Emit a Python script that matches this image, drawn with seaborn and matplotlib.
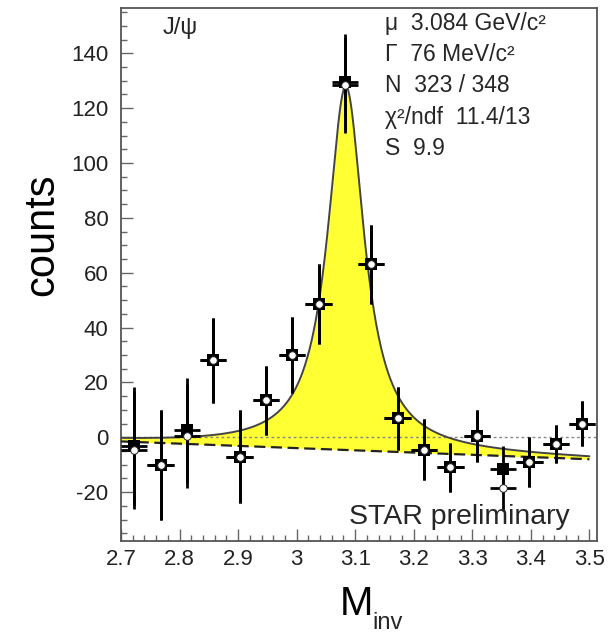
import numpy as np
import pandas as pd
import matplotlib
matplotlib.use("Agg")
import matplotlib.pyplot as plt
from matplotlib.ticker import MultipleLocator, FuncFormatter
import seaborn as sns

# ---------------- data ----------------
bin_centers = [2.7225, 2.7675, 2.8125, 2.8575, 2.9025, 2.9475, 2.9925, 3.0375, 3.0825,
               3.1275, 3.1725, 3.2175, 3.2625, 3.3075, 3.3525, 3.3975, 3.4425, 3.4875]
half_bin = 0.0225
counts_square = [-3.0, -10.0, 2.5, 28.0, -7.0, 13.5, 30.0, 48.5, 129.5,
                 63.0, 7.0, -4.5, -11.0, 0.5, -11.5, -9.0, -2.5, 5.0]
counts_circle = [-4.5, -10.0, 0.5, 28.0, -7.0, 13.5, 30.0, 48.5, 128.5,
                 63.0, 7.0, -4.5, -11.0, 0.5, -18.5, -9.0, -2.5, 5.0]
count_errors = [21.5, 20.0, 19.0, 15.5, 17.0, 12.5, 14.0, 14.5, 17.5,
                14.5, 11.5, 11.0, 9.0, 9.5, 8.5, 9.0, 7.0, 8.3]

fit_mu = 3.084          # GeV/c^2
fit_gamma = 0.076       # GeV/c^2
fit_amplitude = 132.6
bg_at_start = -1.5      # linear background at 2.7
bg_at_end = -8.0        # linear background at 3.5

stats_lines = ["\u03bc  3.084 GeV/c\u00b2", "\u0393  76 MeV/c\u00b2", "N  323 / 348",
               "\u03c7\u00b2/ndf  11.4/13", "S  9.9"]
x_ticks = [2.7, 2.8, 2.9, 3.0, 3.1, 3.2, 3.3, 3.4, 3.5]
y_ticks = [-20, 0, 20, 40, 60, 80, 100, 120, 140]

# ---------------- style ----------------
sns.set_theme(style="ticks")
plt.rcParams["font.family"] = ["Liberation Sans", "DejaVu Sans"]
plt.rcParams["axes.unicode_minus"] = False

W, H = 613, 635
fig = plt.figure(figsize=(W / 100, H / 100), dpi=100)
ax = fig.add_axes([121 / W, 1 - 541 / H, (597 - 121) / W, (541 - 8) / H])

# fit curve
xs = np.linspace(2.7, 3.5, 801)
bg = bg_at_start + (bg_at_end - bg_at_start) * (xs - 2.7) / 0.8
peak = fit_amplitude / (1 + ((xs - fit_mu) / (fit_gamma / 2)) ** 2)
total = bg + peak
curve_df = pd.DataFrame({"mass": xs, "background": bg, "fit": total})

ax.fill_between(curve_df["mass"], curve_df["background"], curve_df["fit"],
                color="#ffff33", linewidth=0, zorder=1)
ax.axhline(0, color="#888888", lw=1.0, ls=(0, (2, 2)), zorder=2)
sns.lineplot(data=curve_df, x="mass", y="fit", color="#444444", lw=1.4, ax=ax, zorder=3)
sns.lineplot(data=curve_df, x="mass", y="background", color="#222222", lw=1.6,
             ax=ax, zorder=3, linestyle=(0, (5, 2.5)))

# data points
pts = pd.DataFrame({"mass": bin_centers, "sq": counts_square, "ci": counts_circle,
                    "err": count_errors})
ax.errorbar(pts["mass"], pts["sq"], xerr=half_bin, yerr=pts["err"], fmt="none",
            ecolor="black", elinewidth=2.0, zorder=4)
ax.errorbar(pts["mass"], pts["ci"], xerr=half_bin, yerr=pts["err"], fmt="none",
            ecolor="black", elinewidth=2.0, zorder=4)
sns.scatterplot(data=pts, x="mass", y="sq", marker="s", s=85, color="black",
                edgecolor="black", linewidth=0, ax=ax, zorder=5)
sns.scatterplot(data=pts, x="mass", y="ci", marker="o", s=30, color="white",
                edgecolor="#222222", linewidth=0.7, ax=ax, zorder=6)

# axes
ax.set_xlim(2.7, 3.513)
ax.set_ylim(-37.8, 156.5)
ax.set_xticks(x_ticks)
ax.xaxis.set_major_formatter(FuncFormatter(lambda v, p: f"{v:g}"))
ax.xaxis.set_minor_locator(MultipleLocator(0.02))
ax.set_yticks(y_ticks)
ax.yaxis.set_minor_locator(MultipleLocator(5))
ax.tick_params(axis="both", which="both", direction="in", colors="#666666",
               labelcolor="#222222", labelsize=16)
ax.tick_params(axis="x", which="major", length=9, width=1.0, pad=6, top=False)
ax.tick_params(axis="x", which="minor", length=4.5, width=1.0, top=False)
ax.tick_params(axis="y", which="major", length=8.5, width=1.0, pad=9, right=False)
ax.tick_params(axis="y", which="minor", length=4.5, width=1.0, right=False)
for s in ax.spines.values():
    s.set_visible(True)
    s.set_color("#555555")
    s.set_linewidth(1.3)

ax.set_xlabel("M", fontsize=29, color="black")
ax.xaxis.set_label_coords((356 - 121) / 476, -(585 - 541) / 533)
ax.set_ylabel("counts", fontsize=30, color="black")
ax.yaxis.set_label_coords(-(121 - 62) / 476, (541 - 235) / 533)
fig.text(372 / W, 1 - 629 / H, "inv", fontsize=17, ha="left", va="baseline")

# annotations
ax.text(163 / W, 1 - 34 / H, "J/\u03c8", transform=fig.transFigure, fontsize=17,
        ha="left", va="baseline")
for i, line in enumerate(stats_lines):
    fig.text(385 / W, 1 - (30 + 31.2 * i) / H, line, fontsize=16.5,
             ha="left", va="baseline")
fig.text(349 / W, 1 - 524 / H, "STAR preliminary", fontsize=20.5,
         ha="left", va="baseline")

fig.savefig("out.png", dpi=100)
